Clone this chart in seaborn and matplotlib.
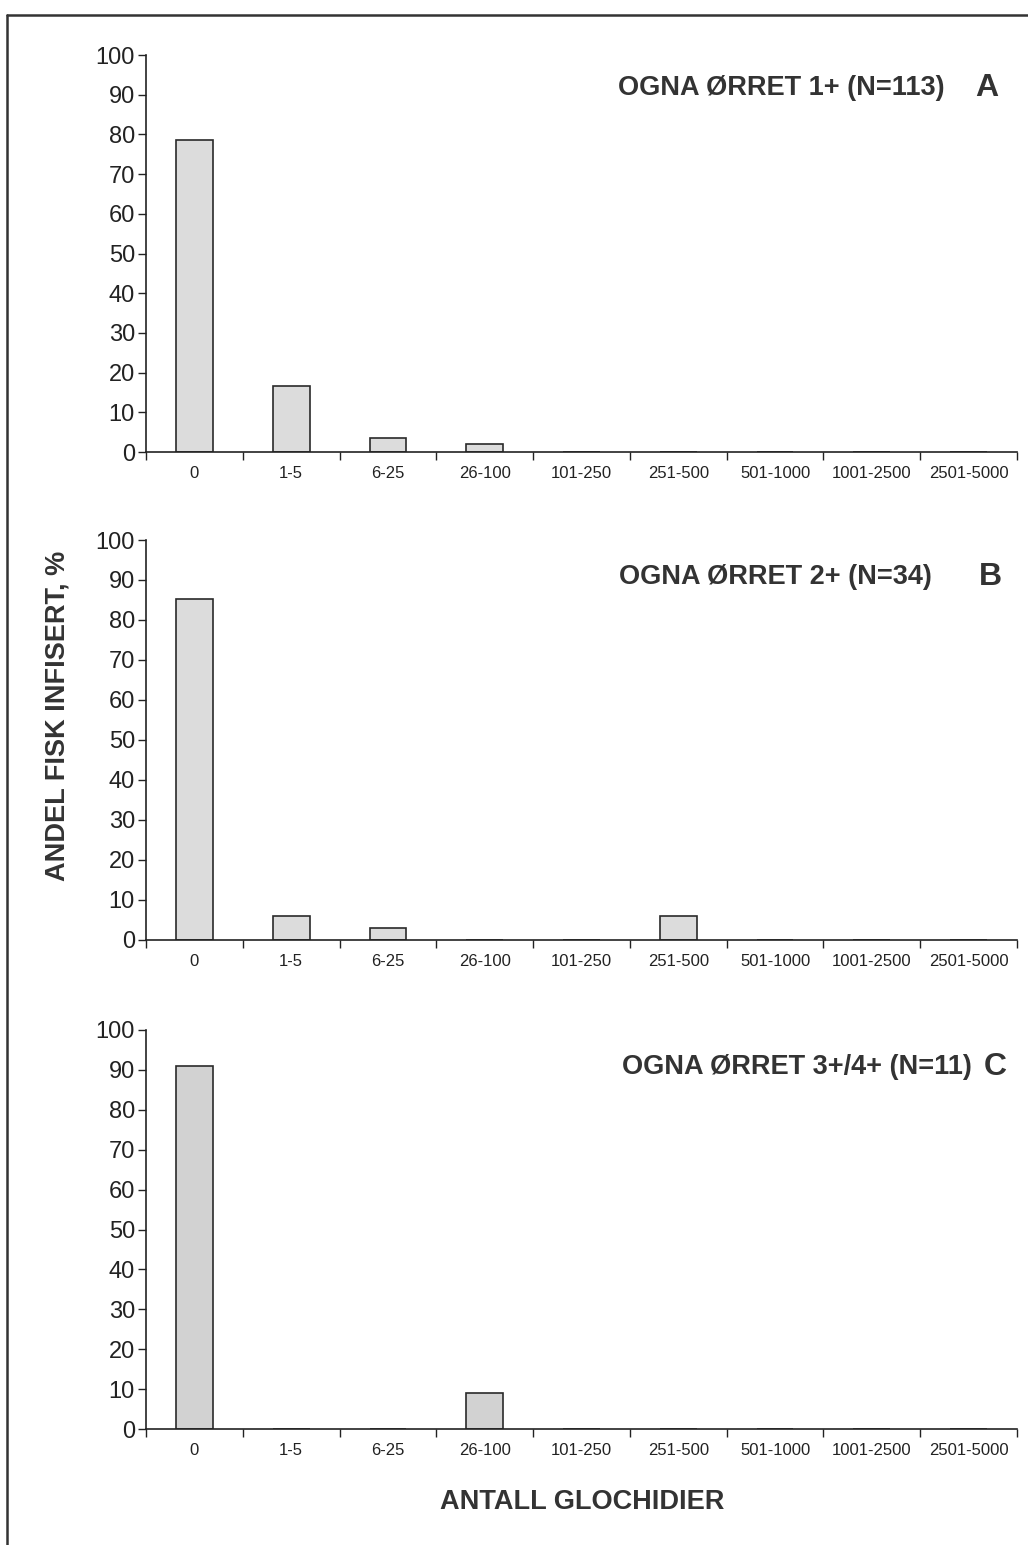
import matplotlib
matplotlib.use("Agg")
import matplotlib.pyplot as plt
import seaborn as sns
import pandas as pd
from matplotlib.lines import Line2D
from matplotlib.ticker import FixedLocator, NullFormatter

categories = ["0", "1-5", "6-25", "26-100", "101-250", "251-500",
              "501-1000", "1001-2500", "2501-5000"]
vals_a = [78.5, 16.5, 3.5, 2.0, 0, 0, 0, 0, 0]
vals_b = [85.3, 5.9, 2.9, 0, 0, 5.9, 0, 0, 0]
vals_c = [90.9, 0, 0, 9.1, 0, 0, 0, 0, 0]
titles = ["OGNA ØRRET 1+ (N=113)", "OGNA ØRRET 2+ (N=34)", "OGNA ØRRET 3+/4+ (N=11)"]
letters = ["A", "B", "C"]
yticks = [0, 10, 20, 30, 40, 50, 60, 70, 80, 90, 100]

sns.set_style("white")
plt.rcParams['font.family'] = ['Liberation Sans', 'DejaVu Sans']

W, H = 1028, 1545
fig = plt.figure(figsize=(W / 100, H / 100), dpi=100)

panels = [
    (vals_a, 55, 452),
    (vals_b, 540, 940),
    (vals_c, 1030, 1429),
]
left, right = 146 / W, 1017 / W
title_pos = [(945, 88), (932, 577), (972, 1067)]
letter_pos = [(987, 88), (990, 577), (995, 1067)]

for i, (vals, ytop, ybot) in enumerate(panels):
    ax = fig.add_axes([left, 1 - ybot / H, right - left, (ybot - ytop) / H])
    df = pd.DataFrame({"cat": categories, "val": vals})
    fc = "#dcdcdc" if i < 2 else "#d2d2d2"
    sns.barplot(data=df, x="cat", y="val", color=fc, edgecolor="#2a2a2a",
                linewidth=1.2, width=0.38, saturation=1, ax=ax)
    ax.set_xlim(-0.5, 8.5)
    ax.set_ylim(0, 100)
    ax.set_xlabel("")
    ax.set_ylabel("")
    for s in ["top", "right"]:
        ax.spines[s].set_visible(False)
    for s in ["left", "bottom"]:
        ax.spines[s].set_color("#222222")
        ax.spines[s].set_linewidth(1.2)
    ax.set_yticks(yticks)
    ax.set_yticklabels([str(t) for t in yticks], fontsize=17, color="#222222")
    ax.tick_params(axis="y", direction="out", length=6, width=1.0, color="#222222", pad=2, left=True)
    ax.set_xticks(range(len(categories)))
    ax.set_xticklabels(categories, fontsize=12, color="#222222")
    ax.tick_params(axis="x", which="major", length=0, pad=10)
    ax.xaxis.set_minor_locator(FixedLocator([k - 0.5 for k in range(len(categories) + 1)]))
    ax.xaxis.set_minor_formatter(NullFormatter())
    ax.tick_params(axis="x", which="minor", direction="out", length=6, width=1.0,
                   color="#222222", bottom=True)
    tx, ty = title_pos[i]
    fig.text(tx / W, 1 - ty / H, titles[i], ha="right", va="center",
             fontsize=19.5, fontweight="bold", color="#333333")
    lx, ly = letter_pos[i]
    fig.text(lx / W, 1 - ly / H, letters[i], ha="center", va="center",
             fontsize=23, fontweight="bold", color="#333333")

fig.text(58 / W, 1 - 716 / H, "ANDEL FISK INFISERT, %", rotation=90,
         ha="center", va="center", fontsize=19.5, fontweight="bold", color="#333333")
fig.text(582 / W, 1 - 1502 / H, "ANTALL GLOCHIDIER", ha="center", va="center",
         fontsize=19.5, fontweight="bold", color="#333333")

# outer frame (left and top)
fig.add_artist(Line2D([7 / W, 7 / W], [0, 1 - 15 / H], transform=fig.transFigure,
                      color="#333333", linewidth=1.8))
fig.add_artist(Line2D([7 / W, 1], [1 - 15 / H, 1 - 15 / H], transform=fig.transFigure,
                      color="#333333", linewidth=1.8))

fig.savefig("out.png", dpi=100, facecolor="white")
